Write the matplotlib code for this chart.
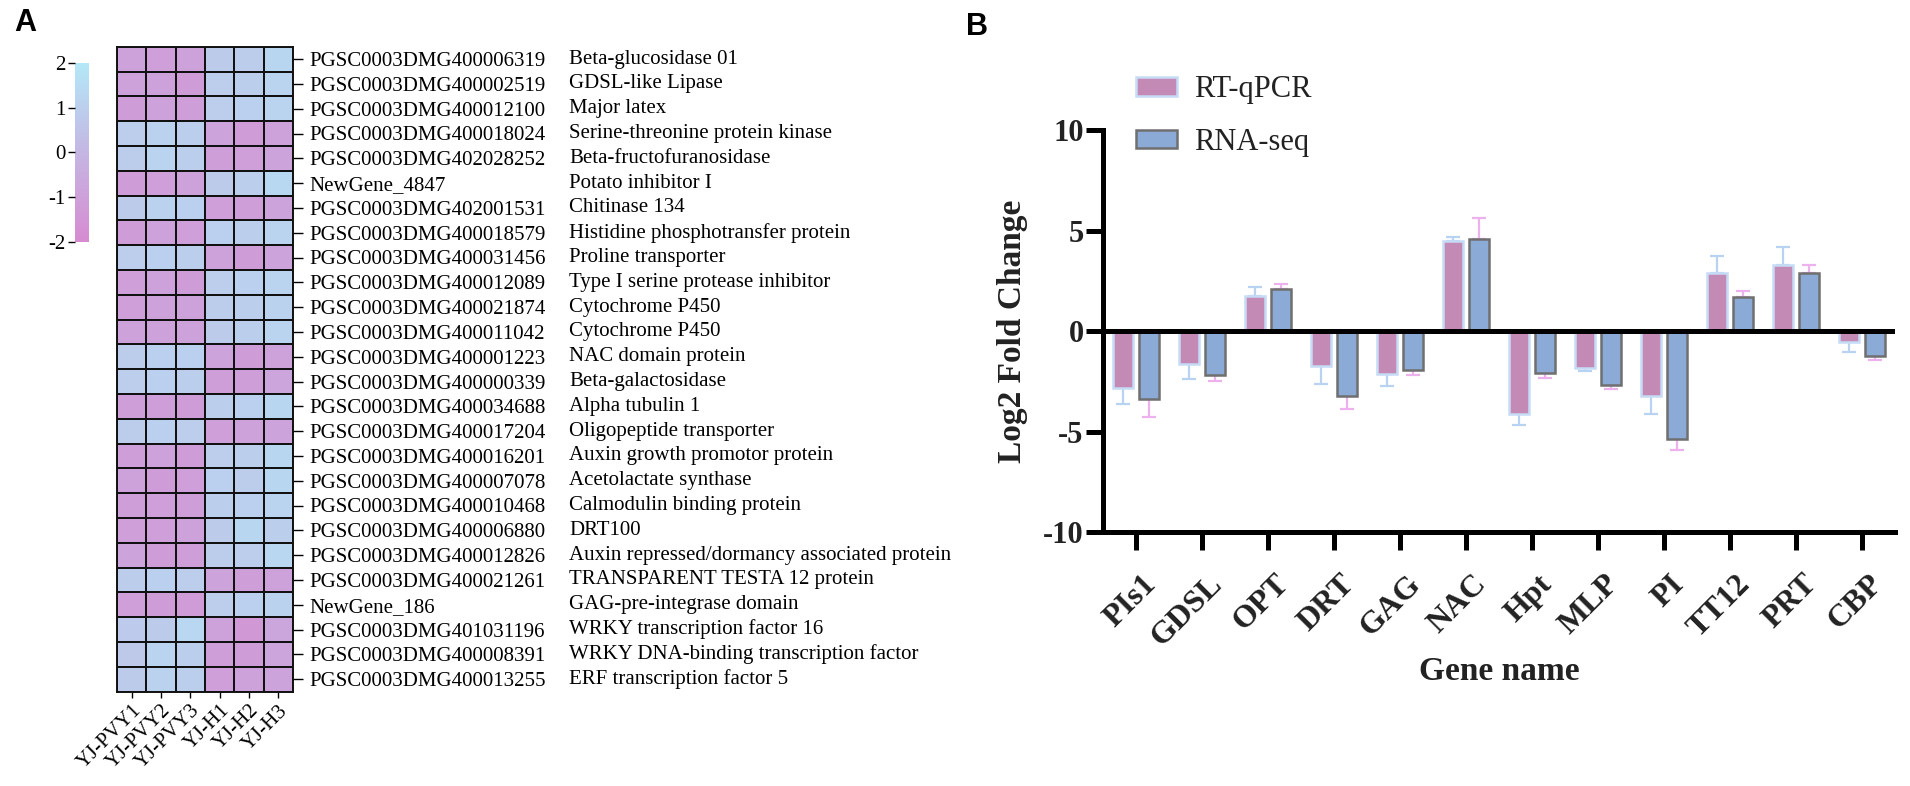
import numpy as np
import matplotlib
matplotlib.use("Agg")
import matplotlib.pyplot as plt
from matplotlib.colors import LinearSegmentedColormap
from matplotlib.transforms import blended_transform_factory, ScaledTranslation

# ---------------- data: heatmap ----------------
samples = ["YJ-PVY1", "YJ-PVY2", "YJ-PVY3", "YJ-H1", "YJ-H2", "YJ-H3"]
gene_ids = [
    "PGSC0003DMG400006319", "PGSC0003DMG400002519", "PGSC0003DMG400012100",
    "PGSC0003DMG400018024", "PGSC0003DMG402028252", "NewGene_4847",
    "PGSC0003DMG402001531", "PGSC0003DMG400018579", "PGSC0003DMG400031456",
    "PGSC0003DMG400012089", "PGSC0003DMG400021874", "PGSC0003DMG400011042",
    "PGSC0003DMG400001223", "PGSC0003DMG400000339", "PGSC0003DMG400034688",
    "PGSC0003DMG400017204", "PGSC0003DMG400016201", "PGSC0003DMG400007078",
    "PGSC0003DMG400010468", "PGSC0003DMG400006880", "PGSC0003DMG400012826",
    "PGSC0003DMG400021261", "NewGene_186", "PGSC0003DMG401031196",
    "PGSC0003DMG400008391", "PGSC0003DMG400013255",
]
descriptions = [
    "Beta-glucosidase 01", "GDSL-like Lipase", "Major latex",
    "Serine-threonine protein kinase", "Beta-fructofuranosidase", "Potato inhibitor I",
    "Chitinase 134", "Histidine phosphotransfer protein", "Proline transporter",
    "Type I serine protease inhibitor", "Cytochrome P450", "Cytochrome P450",
    "NAC domain protein", "Beta-galactosidase", "Alpha tubulin 1",
    "Oligopeptide transporter", "Auxin growth promotor protein", "Acetolactate synthase",
    "Calmodulin binding protein", "DRT100", "Auxin repressed/dormancy associated protein",
    "TRANSPARENT TESTA 12 protein", "GAG-pre-integrase domain", "WRKY transcription factor 16",
    "WRKY DNA-binding transcription factor", "ERF transcription factor 5",
]
zscores = [
    [-0.95, -1.05, -1.00, 0.85, 0.90, 1.25],
    [-1.00, -0.95, -1.15, 0.95, 1.00, 1.15],
    [-1.15, -1.00, -1.10, 0.95, 1.05, 1.20],
    [0.95, 1.10, 1.00, -0.90, -1.20, -0.95],
    [0.90, 1.15, 1.00, -1.10, -1.05, -0.90],
    [-1.15, -1.05, -1.00, 0.85, 1.00, 1.35],
    [0.85, 1.10, 1.05, -1.05, -1.10, -0.85],
    [-1.15, -1.00, -1.05, 1.05, 1.00, 1.15],
    [0.95, 1.05, 1.00, -0.95, -1.15, -0.90],
    [-1.05, -0.95, -1.15, 0.95, 1.05, 1.15],
    [-1.05, -0.95, -1.00, 0.90, 1.00, 1.10],
    [-1.00, -1.00, -0.95, 0.85, 1.00, 1.15],
    [0.90, 1.05, 1.05, -0.90, -1.15, -0.95],
    [0.95, 1.05, 1.00, -1.10, -1.10, -0.80],
    [-1.10, -1.10, -1.15, 1.00, 1.05, 1.25],
    [0.90, 1.05, 0.95, -1.05, -0.95, -0.90],
    [-1.10, -0.95, -1.15, 0.95, 1.00, 1.25],
    [-1.00, -1.15, -1.05, 1.05, 0.90, 1.25],
    [-1.10, -1.05, -1.10, 1.00, 1.05, 1.15],
    [-1.05, -1.05, -0.95, 0.85, 1.25, 1.00],
    [-0.90, -1.15, -1.10, 0.90, 0.95, 1.30],
    [0.90, 1.05, 0.95, -0.90, -1.10, -1.00],
    [-1.05, -1.15, -1.20, 0.95, 1.05, 1.10],
    [0.80, 0.85, 1.30, -1.00, -1.40, -0.75],
    [0.75, 1.20, 1.00, -1.10, -1.15, -0.80],
    [0.85, 1.10, 1.00, -1.05, -1.00, -0.85],
]
cbar_ticks = [-2, -1, 0, 1, 2]
cbar_labels = ["-2", "-1", "0", "1", "2"]

# ---------------- data: bar chart ----------------
genes = ["PIs1", "GDSL", "OPT", "DRT", "GAG", "NAC", "Hpt", "MLP", "PI", "TT12", "PRT", "CBP"]
rtqpcr = [-2.85, -1.65, 1.72, -1.73, -2.15, 4.50, -4.15, -1.85, -3.22, 2.88, 3.28, -0.57]
rtqpcr_err = [0.80, 0.75, 0.45, 0.90, 0.60, 0.16, 0.54, 0.16, 0.93, 0.85, 0.90, 0.48]
rnaseq = [-3.40, -2.20, 2.10, -3.23, -1.96, 4.60, -2.10, -2.67, -5.38, 1.67, 2.90, -1.22]
rnaseq_err = [0.87, 0.28, 0.25, 0.67, 0.21, 1.03, 0.22, 0.24, 0.54, 0.31, 0.36, 0.22]
yticks = [-10, -5, 0, 5, 10]
ytick_labels = ["-10", "-5", "0", "5", "10"]

W, H = 1910, 786
fig = plt.figure(figsize=(W / 100, H / 100), dpi=100)
serif = ["Liberation Serif", "DejaVu Serif"]
sans = ["Liberation Sans", "DejaVu Sans"]

def fx(px):
    return px / W

def fy(py):
    return 1 - py / H

# ---------------- heatmap ----------------
cmap = LinearSegmentedColormap.from_list("pb", ["#D68BD1", "#C4B6E2", "#B3E8F8"])
hx0, hx1, hy0, hy1 = 117, 293, 46.7, 691.5
axh = fig.add_axes([fx(hx0), fy(hy1), fx(hx1 - hx0), (hy1 - hy0) / H])
Z = np.array(zscores)
mesh = axh.pcolormesh(Z, cmap=cmap, vmin=-2, vmax=2, edgecolors="#111111", linewidth=1.4)
axh.set_xlim(0, len(samples))
axh.set_ylim(len(gene_ids), 0)
for s in axh.spines.values():
    s.set_linewidth(1.4)
    s.set_color("#111111")
axh.yaxis.tick_right()
axh.set_yticks(np.arange(len(gene_ids)) + 0.5)
axh.set_yticklabels(gene_ids, fontsize=15, family=serif)
axh.tick_params(axis="y", length=7, width=1.0, pad=5)
axh.set_xticks(np.arange(len(samples)) + 0.5)
axh.set_xticklabels(samples, fontsize=15, family=serif, rotation=45,
                    ha="right", va="top", rotation_mode="anchor")
axh.tick_params(axis="x", length=4, width=1.0, pad=3)
tr = blended_transform_factory(fig.transFigure, axh.transData)
for i, d in enumerate(descriptions):
    axh.text(fx(569), i + 0.5, d, transform=tr, fontsize=15, family=serif,
             ha="left", va="center")

cax = fig.add_axes([fx(75), fy(242), fx(14), (242 - 62.7) / H])
cb = fig.colorbar(mesh, cax=cax, ticks=cbar_ticks)
cb.outline.set_visible(False)
cax.yaxis.set_ticks_position("left")
cax.set_yticks(cbar_ticks)
cax.set_yticklabels(cbar_labels, fontsize=15, family=serif)
cax.tick_params(length=5, width=1.0, pad=2)

fig.text(fx(25), fy(23), "A", fontsize=22, fontweight="bold", family=sans,
         ha="center", va="center")
fig.text(fx(977), fy(27), "B", fontsize=22, fontweight="bold", family=sans,
         ha="center", va="center")

# ---------------- bar chart ----------------
bx0, bx1, by0, by1 = 1103, 1895, 130, 532
axb = fig.add_axes([fx(bx0), fy(by1), fx(bx1 - bx0), (by1 - by0) / H])
x = np.arange(len(genes))
bw, off = 0.30, 0.195
rt = np.array(rtqpcr)
rn = np.array(rnaseq)
rte = np.array(rtqpcr_err)
rne = np.array(rnaseq_err)
axb.bar(x - off, rt, bw, color="#C38AB5", edgecolor="#C6DCF6", linewidth=1.8,
        label="RT-qPCR", zorder=2)
axb.bar(x + off, rn, bw, color="#8BAAD5", edgecolor="#6F6F6F", linewidth=1.8,
        label="RNA-seq", zorder=2)
axb.errorbar(x - off, rt, yerr=[np.where(rt < 0, rte, 0), np.where(rt > 0, rte, 0)],
             fmt="none", ecolor="#B8D2F2", elinewidth=1.6, capsize=5, capthick=1.6, zorder=1)
axb.errorbar(x + off, rn, yerr=[np.where(rn < 0, rne, 0), np.where(rn > 0, rne, 0)],
             fmt="none", ecolor="#EDB2EE", elinewidth=1.6, capsize=5, capthick=1.6, zorder=1)
axb.axhline(0, color="black", linewidth=3.6, zorder=3, solid_capstyle="butt")
axb.set_xlim(-0.5, len(genes) - 0.5)
axb.set_ylim(-10, 10)
for side in ["top", "right"]:
    axb.spines[side].set_visible(False)
for side in ["left", "bottom"]:
    axb.spines[side].set_linewidth(3.6)
    axb.spines[side].set_capstyle("projecting")
axb.set_yticks(yticks)
axb.set_yticklabels(ytick_labels, fontsize=22, fontweight="bold",
                    family=serif, color="#222222")
axb.tick_params(axis="y", length=12, width=3.6, pad=2)
axb.set_xticks(x)
axb.set_xticklabels(genes, fontsize=23, fontweight="bold", family=serif,
                    color="#222222", rotation=45, ha="right", va="top",
                    rotation_mode="anchor")
axb.tick_params(axis="x", length=13, width=3.6, pad=14)
for lab in axb.get_xticklabels():
    lab.set_transform(lab.get_transform() + ScaledTranslation(6 / 100, 0, fig.dpi_scale_trans))
axb.set_ylabel("Log2 Fold Change", fontsize=24, fontweight="bold", family=serif,
               color="#222222", va="center")
axb.yaxis.set_label_coords((1012 - bx0) / (bx1 - bx0), 0.5)
axb.set_xlabel("Gene name", fontsize=24, fontweight="bold", family=serif,
               color="#222222", va="center")
axb.xaxis.set_label_coords(0.5, (by1 - 672) / (by1 - by0))

leg = axb.legend(loc="upper left", bbox_to_anchor=(fx(1136), fy(75)),
                 bbox_transform=fig.transFigure, frameon=False,
                 prop={"family": serif, "size": 22}, handlelength=1.34,
                 handleheight=0.56, handletextpad=0.55, labelspacing=0.78,
                 borderpad=0, borderaxespad=0)
for t in leg.get_texts():
    t.set_color("#222222")

fig.savefig("out.png", dpi=100)
